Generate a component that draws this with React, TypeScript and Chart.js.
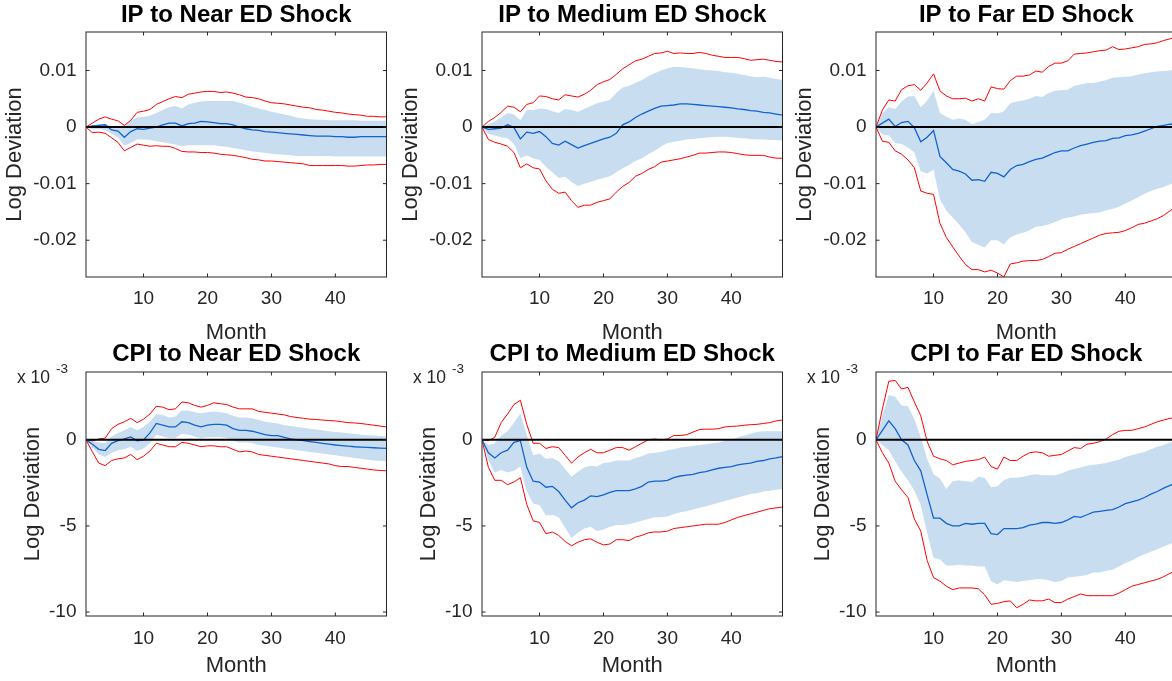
import React, { useEffect, useRef } from "react";
import { Chart, registerables } from "chart.js";

Chart.register(...registerables);

// ---------- data ----------
const MONTHS = Array.from({ length: 48 }, (_, i) => i + 1);
const X_TICKS = [10, 20, 30, 40];
const IP_Y_TICKS = [-0.02, -0.01, 0, 0.01];
const CPI_Y_TICKS = [-10, -5, 0]; // in units of 10^-3
const IP_Y_RANGE = [-0.0265, 0.0168];
const CPI_Y_RANGE = [-10.23, 3.94];

// IP to Near ED Shock
const IP_NEAR_MEDIAN = [
  0, 0.0002, 0.0003, 0.0004, -0.0005, -0.0007, -0.0018, -0.0008, -0.0003, -0.0004,
  -0.0002, 0.0, 0.0004, 0.0007, 0.0007, 0.0002, 0.0006, 0.0007, 0.001, 0.0009,
  0.0008, 0.0006, 0.0006, 0.0004, 0.0, -0.0003, -0.0005, -0.0006, -0.0008, -0.0009,
  -0.001, -0.0011, -0.0012, -0.0013, -0.0014, -0.0015, -0.0016, -0.0016, -0.0016, -0.0017,
  -0.0017, -0.0018, -0.0018, -0.0017, -0.0017, -0.0017, -0.0017, -0.0017,
];
const IP_NEAR_RED_UP = [
  0, 0.0007, 0.0014, 0.0018, 0.0014, 0.0011, 0.0003, 0.0012, 0.0026, 0.0028,
  0.0031, 0.004, 0.0045, 0.005, 0.0054, 0.0052, 0.0058, 0.006, 0.0062, 0.0063,
  0.0063, 0.0061, 0.0062, 0.006, 0.0057, 0.0053, 0.0052, 0.005, 0.0046, 0.0043,
  0.0042, 0.0041, 0.0039, 0.0037, 0.0035, 0.0034, 0.0031, 0.003, 0.0028, 0.0026,
  0.0025, 0.0023, 0.0022, 0.0021, 0.0019, 0.0019, 0.0018, 0.0018,
];
const IP_NEAR_RED_LO = [
  0, -0.001, -0.0009, -0.0011, -0.0019, -0.0027, -0.0042, -0.0036, -0.003, -0.0032,
  -0.0034, -0.0033, -0.0034, -0.0034, -0.0038, -0.0043, -0.0044, -0.0044, -0.0045, -0.0045,
  -0.0046, -0.0048, -0.0049, -0.005, -0.0052, -0.0054, -0.0057, -0.0058, -0.006, -0.006,
  -0.0061, -0.0062, -0.0063, -0.0064, -0.0065, -0.0068, -0.0068, -0.0068, -0.0068, -0.0068,
  -0.0068, -0.0069, -0.0069, -0.0068, -0.0067, -0.0067, -0.0066, -0.0066,
];
const IP_NEAR_BAND_UP = [
  0, 0.0002, 0.0005, 0.0006, 0.0002, 0.0002, 0.0003, 0.0012, 0.0017, 0.0018,
  0.002, 0.0025, 0.003, 0.0035, 0.0037, 0.0033, 0.004, 0.0043, 0.0045, 0.0046,
  0.0046, 0.0046, 0.0046, 0.0046, 0.0043, 0.004, 0.0036, 0.0033, 0.003, 0.0027,
  0.0025, 0.0022, 0.002, 0.0017, 0.0015, 0.0014, 0.0013, 0.0013, 0.0012, 0.0012,
  0.0012, 0.0012, 0.0012, 0.0011, 0.0011, 0.0011, 0.0011, 0.0011,
];
const IP_NEAR_BAND_LO = [
  0, -0.0004, -0.0004, -0.0005, -0.0012, -0.0018, -0.0033, -0.0028, -0.0022, -0.0022,
  -0.0023, -0.0025, -0.0027, -0.0029, -0.0031, -0.0034, -0.0032, -0.0032, -0.0032, -0.0032,
  -0.0032, -0.0034, -0.0035, -0.0037, -0.0039, -0.0041, -0.0043, -0.0044, -0.0046, -0.0047,
  -0.0048, -0.0049, -0.005, -0.0051, -0.0051, -0.0051, -0.0051, -0.0051, -0.0051, -0.0052,
  -0.0052, -0.0052, -0.0052, -0.0052, -0.0052, -0.0052, -0.0052, -0.0052,
];

// IP to Medium ED Shock
const IP_MED_MEDIAN = [
  0, -0.0004, -0.0003, -0.0002, 0.0004, -0.0001, -0.0021, -0.0009, -0.0011, -0.0008,
  -0.0017, -0.0029, -0.0032, -0.0025, -0.0031, -0.0037, -0.0033, -0.0029, -0.0025, -0.0021,
  -0.0018, -0.0011, 0.0004, 0.0009, 0.0017, 0.0023, 0.0028, 0.0033, 0.0037, 0.0038,
  0.0039, 0.0041, 0.0041, 0.004, 0.0039, 0.0038, 0.0037, 0.0036, 0.0035, 0.0034,
  0.0032, 0.0031, 0.0029, 0.0028, 0.0026, 0.0025, 0.0023, 0.0021,
];
const IP_MED_RED_UP = [
  0, 0.001, 0.0017, 0.0026, 0.0037, 0.0035, 0.0027, 0.004, 0.0043, 0.0055,
  0.0054, 0.005, 0.0048, 0.0057, 0.0055, 0.0053, 0.0058, 0.0065, 0.0075, 0.008,
  0.0084, 0.0093, 0.0103, 0.011, 0.0117, 0.012, 0.0125, 0.013, 0.0131, 0.0134,
  0.013, 0.0131, 0.013, 0.013, 0.0132, 0.013, 0.0127, 0.0125, 0.0123, 0.0123,
  0.0123, 0.0121, 0.0118, 0.0119, 0.012, 0.0118, 0.0116, 0.0115,
];
const IP_MED_RED_LO = [
  0, -0.0022, -0.0027, -0.003, -0.0034, -0.0045, -0.0072, -0.0065, -0.0072, -0.0074,
  -0.0095, -0.011, -0.0117, -0.0115, -0.013, -0.0142, -0.0138, -0.0138, -0.0133, -0.013,
  -0.0127, -0.0115, -0.0105, -0.0098, -0.0087, -0.0082, -0.0075, -0.007, -0.0062, -0.006,
  -0.0058, -0.0056, -0.0053, -0.005, -0.0046, -0.0046, -0.0045, -0.0044, -0.0044, -0.0045,
  -0.0047, -0.0049, -0.005, -0.005, -0.005, -0.0053, -0.0055, -0.0055,
];
const IP_MED_BAND_UP = [
  0, 0.0005, 0.001, 0.0017, 0.0025, 0.0022, 0.0012, 0.003, 0.003, 0.0033,
  0.0032, 0.0028, 0.0025, 0.0032, 0.003, 0.0027, 0.0032, 0.0037, 0.0042, 0.0045,
  0.0048, 0.006, 0.007, 0.0073, 0.0078, 0.0083, 0.009, 0.0095, 0.01, 0.0104,
  0.0106, 0.0106, 0.0105, 0.0104, 0.0102, 0.0101, 0.01, 0.0099, 0.0097, 0.0096,
  0.0094, 0.0092, 0.009, 0.0088, 0.0089, 0.0087, 0.0085, 0.0083,
];
const IP_MED_BAND_LO = [
  0, -0.0012, -0.0015, -0.0018, -0.002, -0.003, -0.0055, -0.005, -0.0055, -0.0058,
  -0.007, -0.008, -0.009, -0.0088, -0.0097, -0.0104, -0.01, -0.0097, -0.0093, -0.009,
  -0.0087, -0.008, -0.0073, -0.0067, -0.006, -0.0055, -0.0048, -0.0042, -0.0035, -0.0028,
  -0.0026, -0.0024, -0.0022, -0.0021, -0.002, -0.0019, -0.0018, -0.0017, -0.0017, -0.0018,
  -0.0019, -0.002, -0.0021, -0.0022, -0.0022, -0.0023, -0.0023, -0.0024,
];

// IP to Far ED Shock
const IP_FAR_MEDIAN = [
  0, 0.0007, 0.0014, 0.0001, 0.0008, 0.001, -0.0001, -0.0026, -0.0018, -0.0006,
  -0.0052, -0.0063, -0.0075, -0.0078, -0.0083, -0.0094, -0.0093, -0.0096, -0.008, -0.0082,
  -0.0088, -0.0075, -0.0068, -0.0066, -0.0061, -0.0057, -0.0055, -0.005, -0.0045, -0.0042,
  -0.0042, -0.0037, -0.0033, -0.003, -0.0027, -0.0025, -0.0024, -0.002, -0.0019, -0.0015,
  -0.0014, -0.0011, -0.0007, -0.0003, 0.0001, 0.0003, 0.0005, 0.0006,
];
const IP_FAR_RED_UP = [
  0, 0.003, 0.0048, 0.0046, 0.0066, 0.0073, 0.0075, 0.0065, 0.0078, 0.0094,
  0.0064, 0.0055, 0.005, 0.005, 0.0051, 0.0046, 0.005, 0.0046, 0.0071, 0.0068,
  0.0067, 0.0082, 0.009, 0.009, 0.0092, 0.0099, 0.0097, 0.0107, 0.0113, 0.0113,
  0.0117, 0.0129, 0.013, 0.0131, 0.0133, 0.0135, 0.0136, 0.0142, 0.0137, 0.0138,
  0.014, 0.0142, 0.0146, 0.0147, 0.0149, 0.0153, 0.0156, 0.016,
];
const IP_FAR_RED_LO = [
  0, -0.0025, -0.0027, -0.0042, -0.0048, -0.0058, -0.0072, -0.0113, -0.0117, -0.0119,
  -0.017, -0.0195, -0.0212, -0.0228, -0.0243, -0.0252, -0.0252, -0.0256, -0.0253, -0.0258,
  -0.0265, -0.0242, -0.024, -0.0237, -0.0236, -0.0236, -0.0234, -0.0229, -0.0223, -0.0222,
  -0.0216, -0.0211, -0.0206, -0.0201, -0.0196, -0.0191, -0.0188, -0.0187, -0.0186, -0.0183,
  -0.0178, -0.0172, -0.017, -0.0166, -0.0162, -0.0156, -0.0148, -0.014,
];
const IP_FAR_BAND_UP = [
  0, 0.0025, 0.0035, 0.0032, 0.0045, 0.0054, 0.0055, 0.0035, 0.0047, 0.0064,
  0.0025, 0.0018, 0.0013, 0.0015, 0.0013, 0.0005, 0.0009, 0.0013, 0.0025, 0.0024,
  0.0028, 0.0042, 0.0045, 0.0047, 0.005, 0.0055, 0.0053, 0.006, 0.0064, 0.0065,
  0.0066, 0.0073, 0.0075, 0.0078, 0.0078, 0.008, 0.0083, 0.0087, 0.0088, 0.0089,
  0.009, 0.0093, 0.0095, 0.0097, 0.0098, 0.0099, 0.01, 0.0102,
];
const IP_FAR_BAND_LO = [
  0, -0.0013, -0.0015, -0.0028, -0.003, -0.0036, -0.0045, -0.0078, -0.0082, -0.0075,
  -0.0128, -0.0148, -0.016, -0.0172, -0.0186, -0.0203, -0.0208, -0.0213, -0.02, -0.02,
  -0.0207, -0.0195, -0.019, -0.0187, -0.0183, -0.0176, -0.0175, -0.0172, -0.0168, -0.0163,
  -0.016, -0.0158, -0.0155, -0.0153, -0.0152, -0.0151, -0.0147, -0.0145, -0.0141, -0.0135,
  -0.013, -0.0124, -0.0118, -0.0113, -0.0109, -0.0106, -0.0101, -0.0097,
];

// CPI to Near ED Shock (x 10^-3)
const CPI_NEAR_MEDIAN = [
  0, -0.25, -0.55, -0.62, -0.2, -0.05, 0.05, 0.17, -0.05, 0.0,
  0.4, 0.95, 0.85, 0.75, 0.75, 1.05, 1.0, 0.85, 0.75, 0.85,
  0.9, 0.9, 0.85, 0.65, 0.55, 0.55, 0.5, 0.4, 0.3, 0.25,
  0.25, 0.15, 0.05, 0.0, -0.05, -0.1, -0.15, -0.2, -0.25, -0.3,
  -0.33, -0.37, -0.4, -0.42, -0.44, -0.46, -0.48, -0.5,
];
const CPI_NEAR_RED_UP = [
  0, -0.05, 0.05, 0.1, 0.65, 0.9, 1.05, 1.25, 1.0, 1.2,
  1.5, 1.95, 1.9, 1.75, 1.8, 2.2, 2.15, 2.0, 1.9, 2.0,
  2.15, 2.1, 2.05, 1.9, 1.8, 1.8, 1.8, 1.65, 1.6, 1.55,
  1.5, 1.45, 1.35, 1.3, 1.25, 1.2, 1.18, 1.15, 1.12, 1.1,
  1.05, 1.0, 0.98, 0.95, 0.9, 0.85, 0.8, 0.75,
];
const CPI_NEAR_RED_LO = [
  0, -0.7, -1.35, -1.5, -1.2, -1.1, -1.05, -0.85, -1.15, -0.95,
  -0.65, -0.2, -0.3, -0.4, -0.4, -0.15, -0.2, -0.3, -0.4, -0.35,
  -0.35, -0.4, -0.4, -0.55, -0.7, -0.65, -0.7, -0.85, -0.9, -0.95,
  -1.0, -1.05, -1.1, -1.15, -1.2, -1.25, -1.3, -1.35, -1.4, -1.5,
  -1.55, -1.55, -1.6, -1.65, -1.7, -1.75, -1.78, -1.8,
];
const CPI_NEAR_BAND_UP = [
  0, -0.05, -0.15, -0.2, 0.2, 0.4, 0.55, 0.75, 0.55, 0.75,
  1.05, 1.5, 1.45, 1.3, 1.35, 1.7, 1.7, 1.6, 1.55, 1.6,
  1.65, 1.6, 1.55, 1.4, 1.3, 1.3, 1.25, 1.15, 1.05, 1.0,
  0.95, 0.85, 0.8, 0.75, 0.7, 0.65, 0.6, 0.55, 0.5, 0.45,
  0.42, 0.38, 0.35, 0.3, 0.27, 0.25, 0.22, 0.2,
];
const CPI_NEAR_BAND_LO = [
  0, -0.45, -0.85, -1.0, -0.75, -0.6, -0.55, -0.4, -0.65, -0.5,
  -0.2, 0.3, 0.2, 0.1, 0.1, 0.35, 0.3, 0.2, 0.1, 0.15,
  0.15, 0.15, 0.1, -0.05, -0.15, -0.15, -0.2, -0.3, -0.35, -0.4,
  -0.45, -0.5, -0.55, -0.6, -0.65, -0.7, -0.75, -0.8, -0.85, -0.9,
  -0.95, -1.0, -1.05, -1.1, -1.15, -1.2, -1.22, -1.25,
];

// CPI to Medium ED Shock (x 10^-3)
const CPI_MED_MEDIAN = [
  0, -0.75, -1.05, -0.75, -0.6, -0.15, -0.05, -1.6, -2.4, -2.45,
  -2.75, -2.7, -3.0, -3.5, -3.95, -3.65, -3.5, -3.25, -3.3, -3.2,
  -3.05, -2.95, -2.95, -2.95, -2.85, -2.7, -2.45, -2.4, -2.4, -2.35,
  -2.2, -2.1, -2.05, -2.0, -1.9, -1.85, -1.75, -1.65, -1.6, -1.55,
  -1.45, -1.4, -1.35, -1.25, -1.2, -1.1, -1.05, -0.98,
];
const CPI_MED_RED_UP = [
  0, -0.05, 0.15, 1.0, 1.5, 2.05, 2.3, 0.9, -0.2, -0.2,
  -0.5, -0.4, -0.45, -0.9, -1.35, -1.0, -0.75, -0.55, -0.75, -0.75,
  -0.6, -0.45, -0.45, -0.6, -0.4, -0.2, 0.0, 0.05, 0.0, 0.05,
  0.25, 0.25, 0.3, 0.45, 0.6, 0.62, 0.62, 0.65, 0.75, 0.78,
  0.8, 0.85, 0.88, 0.9, 0.95, 1.0, 1.1, 1.15,
];
const CPI_MED_RED_LO = [
  0, -1.6, -2.35, -2.35, -2.6, -2.45, -2.2, -3.75, -4.7, -4.8,
  -5.45, -5.35, -5.55, -5.9, -6.15, -5.95, -5.8, -5.75, -5.95, -6.1,
  -6.05, -5.8, -5.8, -5.85, -5.65, -5.55, -5.4, -5.35, -5.35, -5.3,
  -5.15, -5.1, -5.05, -5.0, -4.95, -4.9, -4.9, -4.9, -4.8, -4.65,
  -4.5, -4.4, -4.3, -4.2, -4.1, -4.0, -3.95, -3.9,
];
const CPI_MED_BAND_UP = [
  0, -0.3, -0.2, 0.25, 0.5, 1.0, 1.55, 0.3, -0.9, -0.8,
  -1.1, -1.05, -1.25, -1.7, -2.15, -1.85, -1.6, -1.5, -1.55, -1.35,
  -1.3, -1.2, -1.2, -1.2, -1.05, -0.95, -0.8, -0.75, -0.7, -0.6,
  -0.55, -0.45, -0.4, -0.35, -0.3, -0.25, -0.2, -0.15, -0.05, 0.0,
  0.15, 0.25, 0.35, 0.45, 0.5, 0.5, 0.5, 0.5,
];
const CPI_MED_BAND_LO = [
  0, -1.2, -1.9, -1.75, -1.9, -1.8, -1.55, -3.0, -3.7, -3.8,
  -4.4, -4.35, -4.5, -5.1, -5.7, -5.4, -5.15, -5.05, -5.3, -5.2,
  -5.05, -4.95, -4.95, -4.9, -4.8, -4.7, -4.6, -4.5, -4.5, -4.45,
  -4.3, -4.2, -4.15, -4.05, -3.95, -3.85, -3.75, -3.65, -3.55, -3.45,
  -3.35, -3.25, -3.15, -3.1, -3.0, -2.95, -2.9, -2.85,
];

// CPI to Far ED Shock (x 10^-3)
const CPI_FAR_MEDIAN = [
  0, 0.55, 1.1, 0.65, 0.0, -0.3, -1.2, -1.8, -3.2, -4.55,
  -4.55, -4.85, -5.0, -5.0, -4.85, -4.9, -4.85, -4.85, -5.45, -5.5,
  -5.15, -5.15, -5.15, -5.1, -4.95, -4.9, -4.8, -4.8, -4.85, -4.8,
  -4.65, -4.45, -4.5, -4.35, -4.2, -4.15, -4.1, -4.05, -3.9, -3.7,
  -3.6, -3.5, -3.35, -3.15, -3.0, -2.8, -2.65, -2.5,
];
const CPI_FAR_RED_UP = [
  0, 1.8, 3.4, 3.45, 2.95, 3.05, 2.2, 1.4, -0.1, -0.95,
  -1.1, -1.2, -1.45, -1.35, -1.25, -1.2, -1.15, -1.0, -1.55, -1.7,
  -1.0, -1.2, -1.2, -0.95, -0.75, -0.7, -0.75, -0.95, -0.9, -0.85,
  -0.65, -0.45, -0.5, -0.25, -0.2, -0.1, 0.05, 0.3, 0.5, 0.55,
  0.55, 0.65, 0.75, 0.9, 1.05, 1.15, 1.25, 1.3,
];
const CPI_FAR_RED_LO = [
  0, -0.75, -1.35, -2.4, -2.9, -3.35, -4.6, -5.3, -7.0, -8.0,
  -8.2, -8.5, -8.7, -8.6, -8.6, -8.6, -8.65, -9.0, -9.55, -9.5,
  -9.4, -9.35, -9.75, -9.55, -9.3, -9.35, -9.35, -9.25, -9.45, -9.45,
  -9.25, -9.1, -8.95, -9.05, -9.05, -9.05, -9.05, -9.05, -8.9, -8.7,
  -8.5, -8.4, -8.3, -8.2, -8.1, -7.95, -7.75, -7.55,
];
const CPI_FAR_BAND_UP = [
  0, 1.4, 2.6, 2.5, 2.0, 1.95, 1.2, 0.15, -1.1, -2.0,
  -2.25, -2.85, -2.4, -2.35, -2.4, -2.45, -2.15, -2.2, -2.75, -2.7,
  -2.35, -2.2, -2.2, -2.15, -2.05, -2.0, -2.05, -2.05, -2.05, -1.95,
  -1.8, -1.7, -1.6, -1.5, -1.45, -1.4, -1.35, -1.25, -1.15, -1.0,
  -0.9, -0.8, -0.7, -0.55, -0.4, -0.3, -0.15, -0.05,
];
const CPI_FAR_BAND_LO = [
  0, -0.3, -0.6, -1.25, -1.85, -2.35, -2.95, -3.8, -5.4, -6.85,
  -6.95, -7.3, -7.3, -7.25, -7.3, -7.3, -7.35, -7.35, -8.2, -8.4,
  -8.15, -8.2, -8.25, -8.2, -8.15, -8.1, -8.1, -8.15, -8.25, -8.2,
  -8.0, -7.95, -7.9, -7.85, -7.7, -7.7, -7.6, -7.55, -7.35, -7.15,
  -7.0, -6.8, -6.65, -6.5, -6.35, -6.2, -6.05, -5.9,
];

// ---------- styling ----------
const FONT = "'Liberation Sans', Arial, Helvetica, sans-serif";
const TXT = "#262626";
const AXIS = "#262626";
const BAND = "rgb(200,221,240)";
const BLUE = "#1262d0";
const RED = "#ff0000";

const ipFmt = (v: number) => (v === 0 ? "0" : v.toFixed(2));
const cpiFmt = (v: number) => String(v);

type Row = {
  top: number;
  height: number;
  plotTop: number;
  plotBottom: number;
  titlePadTop: number;
  tickPad: number;
  monthCenter: number;
  yTitleCenter: number;
};

const ROW1: Row = { top: 0, height: 350, plotTop: 32, plotBottom: 277, titlePadTop: 1.2, tickPad: 10.0, monthCenter: 332.5, yTitleCenter: 15.4 };
const ROW2: Row = { top: 340, height: 341, plotTop: 32, plotBottom: 276, titlePadTop: 0, tickPad: 11.0, monthCenter: 325.8, yTitleCenter: 33.1 };
const COL_LEFT = [0, 396, 790];
const CANVAS_W = 395;
const PLOT_LEFT = 86;
const PLOT_W = 300.5;

const TITLE_SIZE = 24;
const AXIS_TITLE_SIZE = 22;
const TICK_SIZE = 19;

const boxPlugin = {
  id: "matlabBox",
  afterDraw(chart: any, _args: any, opts: any) {
    const { ctx, chartArea: a, scales } = chart;
    ctx.save();
    ctx.strokeStyle = AXIS;
    ctx.lineWidth = 1;
    ctx.strokeRect(a.left, a.top, a.right - a.left, a.bottom - a.top);
    const L = 3.5;
    ctx.beginPath();
    scales.x.ticks.forEach((t: any) => {
      const px = scales.x.getPixelForValue(t.value);
      ctx.moveTo(px, a.bottom);
      ctx.lineTo(px, a.bottom - L);
      ctx.moveTo(px, a.top);
      ctx.lineTo(px, a.top + L);
    });
    scales.y.ticks.forEach((t: any) => {
      const py = scales.y.getPixelForValue(t.value);
      ctx.moveTo(a.left, py);
      ctx.lineTo(a.left + L, py);
      ctx.moveTo(a.right, py);
      ctx.lineTo(a.right - L, py);
    });
    ctx.stroke();
    if (opts && opts.exp) {
      ctx.fillStyle = TXT;
      ctx.textAlign = "left";
      ctx.textBaseline = "alphabetic";
      ctx.font = `17.5px ${FONT}`;
      ctx.fillText("x 10", a.left - 69, a.top + 10.7);
      ctx.font = `13.5px ${FONT}`;
      ctx.fillText("-3", a.left - 30, a.top + 0.7);
    }
    ctx.restore();
  },
};

type PanelDef = {
  title: string;
  col: number;
  row: Row;
  median: number[];
  redUp: number[];
  redLo: number[];
  bandUp: number[];
  bandLo: number[];
  yRange: number[];
  yTicks: number[];
  fmt: (v: number) => string;
  exp: boolean;
};

const PANELS: PanelDef[] = [
  { title: "IP to Near ED Shock", col: 0, row: ROW1, median: IP_NEAR_MEDIAN, redUp: IP_NEAR_RED_UP, redLo: IP_NEAR_RED_LO, bandUp: IP_NEAR_BAND_UP, bandLo: IP_NEAR_BAND_LO, yRange: IP_Y_RANGE, yTicks: IP_Y_TICKS, fmt: ipFmt, exp: false },
  { title: "IP to Medium ED Shock", col: 1, row: ROW1, median: IP_MED_MEDIAN, redUp: IP_MED_RED_UP, redLo: IP_MED_RED_LO, bandUp: IP_MED_BAND_UP, bandLo: IP_MED_BAND_LO, yRange: IP_Y_RANGE, yTicks: IP_Y_TICKS, fmt: ipFmt, exp: false },
  { title: "IP to Far ED Shock", col: 2, row: ROW1, median: IP_FAR_MEDIAN, redUp: IP_FAR_RED_UP, redLo: IP_FAR_RED_LO, bandUp: IP_FAR_BAND_UP, bandLo: IP_FAR_BAND_LO, yRange: IP_Y_RANGE, yTicks: IP_Y_TICKS, fmt: ipFmt, exp: false },
  { title: "CPI to Near ED Shock", col: 0, row: ROW2, median: CPI_NEAR_MEDIAN, redUp: CPI_NEAR_RED_UP, redLo: CPI_NEAR_RED_LO, bandUp: CPI_NEAR_BAND_UP, bandLo: CPI_NEAR_BAND_LO, yRange: CPI_Y_RANGE, yTicks: CPI_Y_TICKS, fmt: cpiFmt, exp: true },
  { title: "CPI to Medium ED Shock", col: 1, row: ROW2, median: CPI_MED_MEDIAN, redUp: CPI_MED_RED_UP, redLo: CPI_MED_RED_LO, bandUp: CPI_MED_BAND_UP, bandLo: CPI_MED_BAND_LO, yRange: CPI_Y_RANGE, yTicks: CPI_Y_TICKS, fmt: cpiFmt, exp: true },
  { title: "CPI to Far ED Shock", col: 2, row: ROW2, median: CPI_FAR_MEDIAN, redUp: CPI_FAR_RED_UP, redLo: CPI_FAR_RED_LO, bandUp: CPI_FAR_BAND_UP, bandLo: CPI_FAR_BAND_LO, yRange: CPI_Y_RANGE, yTicks: CPI_Y_TICKS, fmt: cpiFmt, exp: true },
];

const toPts = (arr: number[]) => arr.map((v, i) => ({ x: MONTHS[i], y: v }));

function Panel({ p }: { p: PanelDef }) {
  const ref = useRef<HTMLCanvasElement | null>(null);
  useEffect(() => {
    if (!ref.current) return;
    const r = p.row;
    const titleLH = TITLE_SIZE * 1.2;
    const titlePadBottom = r.plotTop - r.titlePadTop - titleLH;
    const axisLH = AXIS_TITLE_SIZE * 1.2;
    const xAxisH = r.height - r.plotBottom;
    const monthPad = r.height - r.monthCenter - axisLH / 2;
    const yTitlePad = r.yTitleCenter - axisLH / 2;
    const line = { pointRadius: 0, pointHoverRadius: 0, tension: 0, fill: false };
    const chart = new Chart(ref.current, {
      type: "line",
      data: {
        datasets: [
          { ...line, data: toPts(p.bandUp), borderColor: "rgba(0,0,0,0)", borderWidth: 0, backgroundColor: BAND, fill: "+1", order: 5 },
          { ...line, data: toPts(p.bandLo), borderColor: "rgba(0,0,0,0)", borderWidth: 0, order: 6 },
          { ...line, data: toPts(p.redUp), borderColor: RED, borderWidth: 1, order: 3 },
          { ...line, data: toPts(p.redLo), borderColor: RED, borderWidth: 1, order: 3 },
          { ...line, data: toPts(p.median), borderColor: BLUE, borderWidth: 1.3, order: 2 },
          { ...line, data: [{ x: MONTHS[0], y: 0 }, { x: MONTHS[MONTHS.length - 1], y: 0 }], borderColor: "#000000", borderWidth: 2, order: 1 },
        ] as any,
      },
      options: {
        animation: false,
        responsive: false,
        maintainAspectRatio: false,
        events: [],
        layout: { padding: { left: 0, top: 0, bottom: 0, right: CANVAS_W - PLOT_LEFT - PLOT_W } },
        plugins: {
          legend: { display: false },
          tooltip: { enabled: false },
          title: {
            display: true,
            text: p.title,
            color: "#000000",
            fullSize: false,
            font: { family: FONT, size: TITLE_SIZE, weight: "bold", lineHeight: 1.2 },
            padding: { top: r.titlePadTop, bottom: titlePadBottom },
          },
          matlabBox: { exp: p.exp },
        } as any,
        scales: {
          x: {
            type: "linear",
            min: MONTHS[0],
            max: MONTHS[MONTHS.length - 1],
            afterBuildTicks: (s: any) => {
              s.ticks = X_TICKS.map((v) => ({ value: v }));
            },
            afterFit: (s: any) => {
              s.height = xAxisH;
            },
            grid: { display: false, drawTicks: false },
            border: { display: false },
            ticks: { padding: r.tickPad, color: TXT, font: { family: FONT, size: TICK_SIZE, lineHeight: 1.2 }, autoSkip: false, maxRotation: 0 },
            title: { display: true, text: "Month", color: TXT, font: { family: FONT, size: AXIS_TITLE_SIZE, lineHeight: 1.2 }, padding: { top: 0, bottom: monthPad } },
          },
          y: {
            type: "linear",
            min: p.yRange[0],
            max: p.yRange[1],
            afterBuildTicks: (s: any) => {
              s.ticks = p.yTicks.map((v) => ({ value: v }));
            },
            afterFit: (s: any) => {
              s.width = PLOT_LEFT;
            },
            grid: { display: false, drawTicks: false },
            border: { display: false },
            ticks: { padding: 9.5, color: TXT, font: { family: FONT, size: TICK_SIZE, lineHeight: 1.2 }, callback: (v: any) => p.fmt(Number(v)) },
            title: { display: true, text: "Log Deviation", color: TXT, font: { family: FONT, size: AXIS_TITLE_SIZE, lineHeight: 1.2 }, padding: { top: yTitlePad, bottom: 0 } },
          },
        },
      } as any,
      plugins: [boxPlugin as any],
    });
    return () => chart.destroy();
  }, [p]);
  return (
    <canvas
      ref={ref}
      width={CANVAS_W}
      height={p.row.height}
      style={{ position: "absolute", left: COL_LEFT[p.col], top: p.row.top, width: CANVAS_W, height: p.row.height }}
    />
  );
}

export default function App() {
  return (
    <div style={{ position: "fixed", left: 0, top: 0, width: 1172, height: 681, overflow: "hidden", background: "#ffffff" }}>
      {PANELS.map((p) => (
        <Panel key={p.title} p={p} />
      ))}
    </div>
  );
}
